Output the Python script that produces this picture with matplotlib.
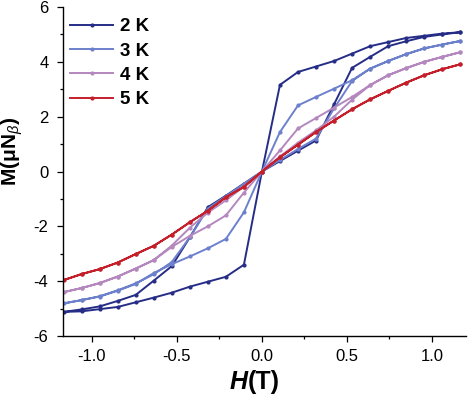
import matplotlib
matplotlib.use("Agg")
import matplotlib.pyplot as plt
from matplotlib.ticker import MultipleLocator
import numpy as np

plt.rcParams['font.family'] = ['Liberation Sans', 'DejaVu Sans']
plt.rcParams['mathtext.fontset'] = 'custom'
plt.rcParams['mathtext.rm'] = 'Liberation Sans'
plt.rcParams['mathtext.bf'] = 'Liberation Sans:bold'
plt.rcParams['mathtext.it'] = 'Liberation Sans:italic'

# Field grid (T): sweep down from +Hmax to -Hmax, then back up
H_down = [1.166, 1.06, 0.954, 0.848, 0.742, 0.636, 0.53, 0.424, 0.318, 0.212, 0.106, 0.0,
          -0.106, -0.212, -0.318, -0.424, -0.53, -0.636, -0.742, -0.848, -0.954, -1.06, -1.166]
H_up = [-1.166, -1.06, -0.954, -0.848, -0.742, -0.636, -0.53, -0.424, -0.318, -0.212, -0.106, 0.0,
        0.106, 0.212, 0.318, 0.424, 0.53, 0.636, 0.742, 0.848, 0.954, 1.06, 1.166]

M2_down = [5.08, 5.03, 4.95, 4.87, 4.72, 4.57, 4.30, 4.03, 3.83, 3.63, 3.16, 0.0,
           -3.40, -3.84, -4.02, -4.20, -4.42, -4.60, -4.77, -4.94, -5.02, -5.10, -5.12]
M2_up = [-5.12, -5.03, -4.92, -4.72, -4.50, -3.98, -3.45, -2.40, -1.30, -0.88, -0.44, 0.0,
         0.38, 0.76, 1.13, 2.45, 3.78, 4.18, 4.57, 4.75, 4.91, 5.00, 5.08]

M3_down = [4.76, 4.63, 4.49, 4.28, 4.03, 3.75, 3.33, 3.02, 2.72, 2.41, 1.44, 0.0,
           -1.49, -2.46, -2.80, -3.10, -3.38, -3.70, -4.10, -4.35, -4.56, -4.69, -4.81]
M3_up = [-4.81, -4.69, -4.55, -4.33, -4.08, -3.75, -3.30, -2.40, -1.35, -0.90, -0.45, 0.0,
         0.42, 0.82, 1.20, 2.30, 3.30, 3.75, 4.03, 4.28, 4.49, 4.63, 4.76]

M4_down = [4.35, 4.18, 4.00, 3.77, 3.51, 3.15, 2.72, 2.33, 1.95, 1.57, 0.77, 0.0,
           -0.77, -1.60, -2.00, -2.35, -2.75, -3.23, -3.54, -3.83, -4.07, -4.25, -4.40]
M4_up = [-4.40, -4.25, -4.07, -3.83, -3.54, -3.23, -2.70, -2.05, -1.50, -1.05, -0.55, 0.0,
         0.55, 1.05, 1.50, 2.00, 2.62, 3.15, 3.51, 3.77, 4.00, 4.18, 4.35]

M5_down = [3.91, 3.73, 3.51, 3.24, 2.94, 2.63, 2.27, 1.86, 1.44, 0.98, 0.52, 0.0,
           -0.57, -0.94, -1.43, -1.85, -2.30, -2.71, -3.01, -3.32, -3.56, -3.74, -3.96]
M5_up = [-3.96, -3.74, -3.56, -3.32, -3.01, -2.71, -2.30, -1.85, -1.43, -0.94, -0.55, 0.0,
         0.52, 0.98, 1.44, 1.86, 2.27, 2.63, 2.94, 3.24, 3.51, 3.73, 3.91]

labels = ['2 K', '3 K', '4 K', '5 K']
colors = ['#262d86', '#6c80cc', '#b487be', '#c41f2b']
xtick_vals = [-1.0, -0.5, 0.0, 0.5, 1.0]
xtick_labels = ['-1.0', '-0.5', '0.0', '0.5', '1.0']
ytick_vals = [-6, -4, -2, 0, 2, 4, 6]
ytick_labels = ['-6', '-4', '-2', '0', '2', '4', '6']

fig = plt.figure(figsize=(4.68, 3.96), dpi=100)
ax = fig.add_axes([0.1346, 0.1515, 0.8611, 0.8308])

series = [(M2_down, M2_up), (M3_down, M3_up), (M4_down, M4_up), (M5_down, M5_up)]
for (md, mu), lab, c in zip(series, labels, colors):
    H = H_down + H_up[1:]
    M = md + mu[1:]
    ax.plot(H, M, color=c, lw=1.4, marker='o', ms=2.0, mec=c, mfc=c, label=lab)

ax.set_xlim(-1.17, 1.20)
ax.set_ylim(-6, 6)
ax.xaxis.set_minor_locator(MultipleLocator(0.25))
ax.yaxis.set_minor_locator(MultipleLocator(1))
ax.set_xticks(xtick_vals)
ax.set_xticklabels(xtick_labels)
ax.set_yticks(ytick_vals)
ax.set_yticklabels(ytick_labels)
ax.spines['top'].set_visible(False)
ax.spines['right'].set_visible(False)
for s in ['left', 'bottom']:
    ax.spines[s].set_linewidth(1.0)
ax.tick_params(axis='both', which='major', direction='out', length=4.5, width=0.9,
               labelsize=12)
ax.tick_params(axis='x', which='major', pad=5)
ax.tick_params(axis='y', which='major', pad=6)
ax.tick_params(axis='both', which='minor', direction='out', length=2.5, width=0.9)

fig.text(0.5 + 0.03, 0.005, 'H', fontsize=18, fontweight='bold', fontstyle='italic',
         ha='right', va='bottom')
fig.text(0.5 + 0.03, 0.005, '(T)', fontsize=18, fontweight='bold', ha='left', va='bottom')
ax.set_ylabel(r'M(μN$_{\beta}$)', fontsize=15, fontweight='bold')
ax.yaxis.set_label_coords(-0.095, 0.56)

leg = ax.legend(loc='upper left', frameon=False, handlelength=2.3,
                handletextpad=0.35, labelspacing=0.38, bbox_to_anchor=(-0.01, 1.0),
                borderaxespad=0.2, prop={'weight': 'bold', 'size': 13.5})

fig.savefig('out.png', dpi=100)
